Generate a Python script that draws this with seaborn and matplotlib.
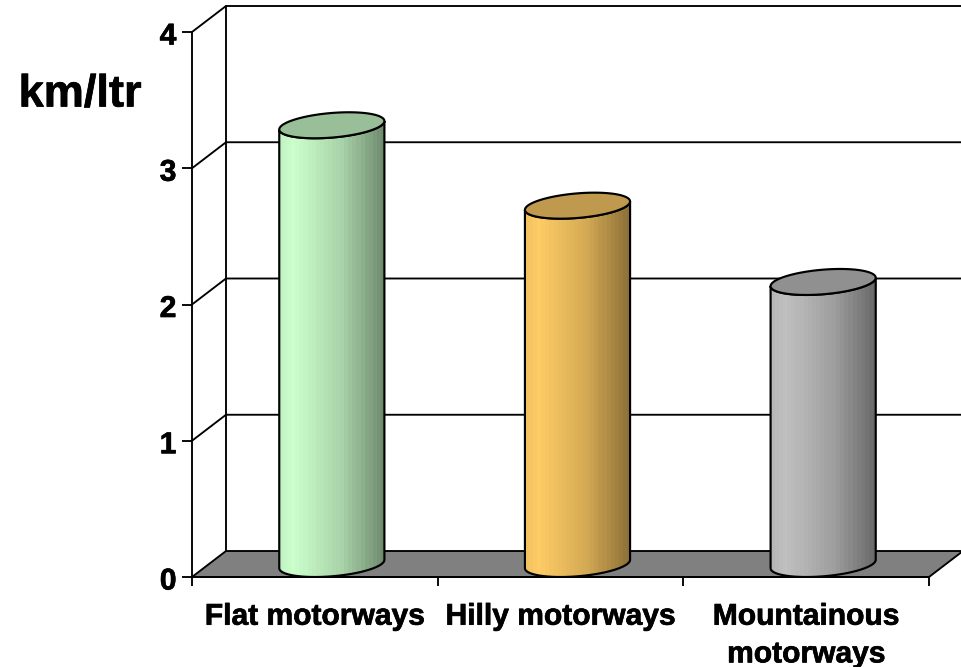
import numpy as np
import pandas as pd
import matplotlib
matplotlib.use("Agg")
import matplotlib.pyplot as plt
import matplotlib.patheffects as pe
from matplotlib.colors import LinearSegmentedColormap, to_rgb
from matplotlib.patches import PathPatch, Polygon
from matplotlib.path import Path
from matplotlib.transforms import ScaledTranslation
import seaborn as sns

categories = ["Flat motorways", "Hilly motorways", "Mountainous\nmotorways"]
values = [3.22, 2.63, 2.07]
bar_colors = ["#CCFFCC", "#FFCC66", "#C0C0C0"]
y_ticks = [0, 1, 2, 3, 4]

sns.set_theme(style="white")
plt.rcParams["font.family"] = ["Liberation Sans", "DejaVu Sans"]
plt.rcParams["font.weight"] = "bold"

W, H = 961, 667
fig = plt.figure(figsize=(W / 100, H / 100), dpi=100, facecolor="white")
ax = fig.add_axes([192 / W, (H - 577) / H, 737 / W, 545 / H])

df = pd.DataFrame({"road": categories, "kml": values})
sns.barplot(data=df, x="road", y="kml", width=0.405, ax=ax)

xmin, xmax = -0.5, 2.5
ymin, ymax = 0, 4
# depth of the fake 3d box, in data units
dx = 34 / (737 / 3)
dy = 26 / (545 / 4)
lw = 1.35

# floor and back wall
ax.add_patch(Polygon([(xmin, 0), (xmax, 0), (xmax + dx, dy), (xmin + dx, dy)],
                     closed=True, fc="#808080", ec="black", lw=lw, zorder=1, clip_on=False))
ax.plot([xmin + dx, xmin + dx], [dy, ymax + dy], color="black", lw=lw, zorder=1, clip_on=False)
for t in y_ticks[1:]:
    ax.plot([xmin, xmin + dx, xmax + dx], [t, t + dy, t + dy], color="black", lw=lw,
            zorder=1, clip_on=False)


def ring(cx, cy, a, t):
    # ellipse inscribed in the depth parallelogram
    return np.column_stack([cx + a * np.cos(t) + dx / 2 * np.sin(t), cy + dy / 2 * np.sin(t)])


# swap the flat seaborn bars for cylinders
for bar, col in zip(list(ax.patches), bar_colors):
    bar.set_visible(False)
    cx = bar.get_x() + bar.get_width() / 2 + dx / 2
    a = bar.get_width() / 2
    y0 = dy / 2
    y1 = bar.get_height() + dy / 2
    phi = np.arctan2(dx / 2, a)
    front = np.linspace(np.pi + phi, 2 * np.pi + phi, 60)
    body = np.vstack([ring(cx, y0, a, front), ring(cx, y1, a, front)[::-1]])
    edge = PathPatch(Path(np.vstack([body, body[:1]]), closed=True), fc="none", ec="black",
                     lw=lw + 0.2, zorder=3)
    ax.add_patch(edge)

    rgb = np.array(to_rgb(col))
    cmap = LinearSegmentedColormap.from_list(
        "cyl", [rgb * 0.95, rgb, rgb * 0.82, rgb * 0.55],
    )
    half = np.hypot(a, dx / 2)
    # banded steps like the original gradient
    grad = np.linspace(0, 1, 26)[None, :]
    grad = np.interp(grad, [0, 0.12, 0.6, 1], [0, 0.33, 0.66, 1])
    im = ax.imshow(grad, extent=[cx - half, cx + half, 0, y1 + dy], aspect="auto", cmap=cmap,
                   vmin=0, vmax=1, zorder=2, interpolation="nearest")
    im.set_clip_path(edge)

    top = ring(cx, y1, a, np.linspace(0, 2 * np.pi, 120))
    ax.add_patch(Polygon(top, closed=True, fc=rgb * 0.75, ec="black", lw=lw + 0.2, zorder=4))

ax.set_xlim(xmin, xmax)
ax.set_ylim(ymin, ymax)
sns.despine(ax=ax)
for s in ["left", "bottom"]:
    ax.spines[s].set_color("black")
    ax.spines[s].set_linewidth(lw)
    ax.spines[s].set_zorder(5)

ax.set_yticks(y_ticks)
ax.set_xticks(np.arange(xmin, xmax + 1), [""] * 4)
ax.set_xticks(range(len(categories)), categories, minor=True)
ax.tick_params(axis="y", left=True, length=7.2, width=lw, color="black", pad=4,
               labelsize=21.6, labelcolor="black")
ax.tick_params(axis="x", which="major", bottom=True, length=6.5, width=lw, color="black")
ax.tick_params(axis="x", which="minor", bottom=False, length=0, pad=18.5, labelsize=21.6,
               labelcolor="black")
# the original text is a little heavier than plain bold
heavy = [pe.withStroke(linewidth=0.5, foreground="black")]
nudge = ScaledTranslation(0, -1.5 / 100, fig.dpi_scale_trans)
for lab in ax.get_yticklabels():
    lab.set_fontweight("bold")
    lab.set_path_effects(heavy)
    lab.set_transform(lab.get_transform() + nudge)
for lab in ax.get_xticklabels(minor=True):
    lab.set_fontweight("bold")
    lab.set_linespacing(1.44)
    lab.set_path_effects(heavy)

ax.set_xlabel("")
ax.set_ylabel("km/ltr", rotation=0, fontsize=32.5, fontweight="bold", color="black",
              ha="center", va="center", path_effects=heavy)
ax.yaxis.set_label_coords((80 - 192) / 737, (577 - 95) / 545)

fig.savefig("out.png", dpi=100)
